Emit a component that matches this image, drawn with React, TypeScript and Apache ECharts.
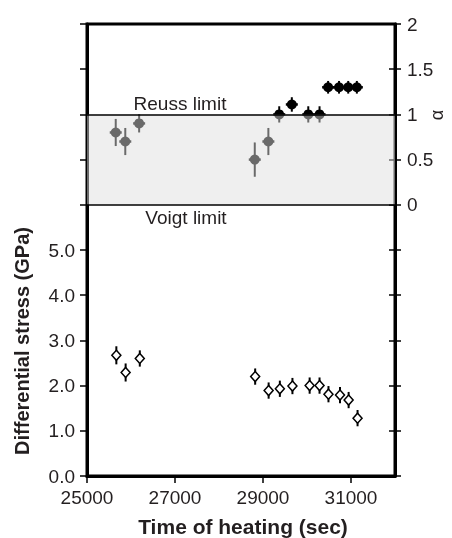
import React, { useEffect, useRef } from "react";
import * as echarts from "echarts";

// Time of heating (sec) for the differential-stress points (bottom panel)
const stressTime = [25667, 25878, 26200, 28822, 29128, 29383, 29669, 30060, 30285, 30488, 30750, 30946, 31149];
// Differential stress (GPa)
const stressValue = [2.67, 2.29, 2.6, 2.2, 1.89, 1.93, 1.99, 2.0, 2.0, 1.81, 1.79, 1.68, 1.28];
const stressError = [0.2, 0.2, 0.18, 0.18, 0.18, 0.18, 0.18, 0.18, 0.18, 0.18, 0.18, 0.18, 0.18];

// Time of heating (sec) for the alpha points (top panel)
const alphaTime = [25653, 25870, 26185, 28813, 29122, 29369, 29655, 30029, 30285, 30480, 30728, 30937, 31133];
const alphaValue = [0.8, 0.7, 0.9, 0.5, 0.7, 1.0, 1.11, 1.0, 1.0, 1.3, 1.3, 1.3, 1.3];
const alphaError = [0.15, 0.15, 0.1, 0.19, 0.15, 0.09, 0.08, 0.09, 0.09, 0.07, 0.07, 0.07, 0.07];

// Axis ranges
const xRange = [25000, 32000];
const xStep = 2000;
const stressRange = [0, 10];
const stressStep = 1;
const stressLabelMax = 5;
const alphaRange = [-3, 2];
const alphaStep = 0.5;

// Limits
const limitValues = [0, 1];
const limitLabels = ["Voigt limit", "Reuss limit"];

const FONT = "'Liberation Sans', Arial, Helvetica, sans-serif";
const TXT = "#231f20";

export default function App() {
  const ref = useRef<HTMLDivElement>(null);
  useEffect(() => {
    const chart = echarts.init(ref.current!, undefined, { renderer: "svg" });
    const stressData = stressTime.map((t, i) => [t, stressValue[i], stressError[i]]);
    const alphaData = alphaTime.map((t, i) => [t, alphaValue[i], alphaError[i]]);

    const axisLine = { show: true, lineStyle: { color: "#000", width: 3 } };
    const tick = { show: true, length: 7, lineStyle: { color: "#000", width: 1.5 } };
    const lbl = { fontSize: 19, color: TXT, fontFamily: FONT, margin: 12 };

    chart.setOption({
      animation: false,
      grid: {
        left: 87,
        right: 57,
        top: 24,
        bottom: 62,
        show: true,
        borderColor: "#000",
        borderWidth: 3,
        backgroundColor: "transparent",
      },
      xAxis: {
        type: "value",
        min: xRange[0],
        max: xRange[1],
        interval: xStep,
        axisLine,
        axisTick: tick,
        splitLine: { show: false },
        axisLabel: { ...lbl, showMaxLabel: false, formatter: (v: number) => String(v) },
      },
      yAxis: [
        {
          type: "value",
          position: "left",
          min: stressRange[0],
          max: stressRange[1],
          interval: stressStep,
          axisLine,
          axisTick: tick,
          splitLine: { show: false },
          axisLabel: { ...lbl, formatter: (v: number) => (v <= stressLabelMax ? v.toFixed(1) : "") },
        },
        {
          type: "value",
          position: "right",
          min: alphaRange[0],
          max: alphaRange[1],
          interval: alphaStep,
          axisLine,
          axisTick: { ...tick, length: 6 },
          splitLine: { show: false },
          axisLabel: { ...lbl, formatter: (v: number) => (v >= 0 ? String(v) : "") },
        },
        {
          type: "value",
          position: "right",
          min: alphaRange[0],
          max: alphaRange[1],
          interval: alphaStep,
          axisLine: { show: false },
          axisTick: { ...tick, length: 6, inside: true },
          splitLine: { show: false },
          axisLabel: { show: false },
        },
      ],
      series: [
        {
          type: "custom",
          name: "alpha",
          yAxisIndex: 1,
          z: 1,
          encode: { x: 0, y: 1 },
          data: alphaData,
          renderItem: (params: any, api: any) => {
            const x = api.value(0);
            const y = api.value(1);
            const e = api.value(2);
            const c = api.coord([x, y]);
            const top = api.coord([x, y + e]);
            const bot = api.coord([x, y - e]);
            return {
              type: "group",
              children: [
                { type: "line", shape: { x1: c[0], y1: top[1], x2: c[0], y2: bot[1] }, style: { stroke: "#000", lineWidth: 2 } },
                { type: "line", shape: { x1: c[0] - 6, y1: c[1], x2: c[0] + 6, y2: c[1] }, style: { stroke: "#000", lineWidth: 2.5 } },
                { type: "circle", shape: { cx: c[0], cy: c[1], r: 5 }, style: { fill: "#000" } },
              ],
            };
          },
        },
        {
          type: "custom",
          name: "stress",
          yAxisIndex: 0,
          z: 2,
          encode: { x: 0, y: 1 },
          data: stressData,
          renderItem: (params: any, api: any) => {
            const x = api.value(0);
            const y = api.value(1);
            const e = api.value(2);
            const c = api.coord([x, y]);
            const top = api.coord([x, y + e]);
            const bot = api.coord([x, y - e]);
            return {
              type: "group",
              children: [
                { type: "line", shape: { x1: c[0], y1: top[1], x2: c[0], y2: bot[1] }, style: { stroke: "#000", lineWidth: 2 } },
                {
                  type: "polygon",
                  shape: { points: [[c[0], c[1] - 5], [c[0] + 4.5, c[1]], [c[0], c[1] + 5], [c[0] - 4.5, c[1]]] },
                  style: { fill: "#fff", stroke: "#000", lineWidth: 1.5 },
                },
              ],
            };
          },
        },
        {
          type: "line",
          name: "limits",
          yAxisIndex: 1,
          z: 5,
          data: [],
          markArea: {
            silent: true,
            z: 5,
            itemStyle: { color: "rgba(222,222,222,0.48)" },
            data: [[{ yAxis: limitValues[0] }, { yAxis: limitValues[1] }]],
          },
          markLine: {
            silent: true,
            z: 6,
            symbol: "none",
            label: { show: false },
            lineStyle: { color: "#000", width: 1.5, type: "solid" },
            data: limitValues.map((v) => ({ yAxis: v })),
          },
        },
      ],
      graphic: [
        {
          type: "text",
          x: 180,
          y: 103,
          style: { text: limitLabels[1], fill: TXT, font: `19px ${FONT}`, align: "center", verticalAlign: "middle" },
        },
        {
          type: "text",
          x: 186,
          y: 217,
          style: { text: limitLabels[0], fill: TXT, font: `19px ${FONT}`, align: "center", verticalAlign: "middle" },
        },
        {
          type: "text",
          x: 243,
          y: 526,
          style: { text: "Time of heating (sec)", fill: TXT, font: `bold 21px ${FONT}`, align: "center", verticalAlign: "middle" },
        },
        {
          type: "text",
          x: 22,
          y: 341,
          rotation: Math.PI / 2,
          style: { text: "Differential stress (GPa)", fill: TXT, font: `bold 20px ${FONT}`, align: "center", verticalAlign: "middle" },
        },
        {
          type: "text",
          x: 437,
          y: 115,
          rotation: Math.PI / 2,
          style: { text: "α", fill: TXT, font: `18px ${FONT}`, align: "center", verticalAlign: "middle" },
        },
      ],
    });
    return () => chart.dispose();
  }, []);
  return <div ref={ref} style={{ position: "fixed", left: 0, top: 0, width: 452, height: 538 }} />;
}
